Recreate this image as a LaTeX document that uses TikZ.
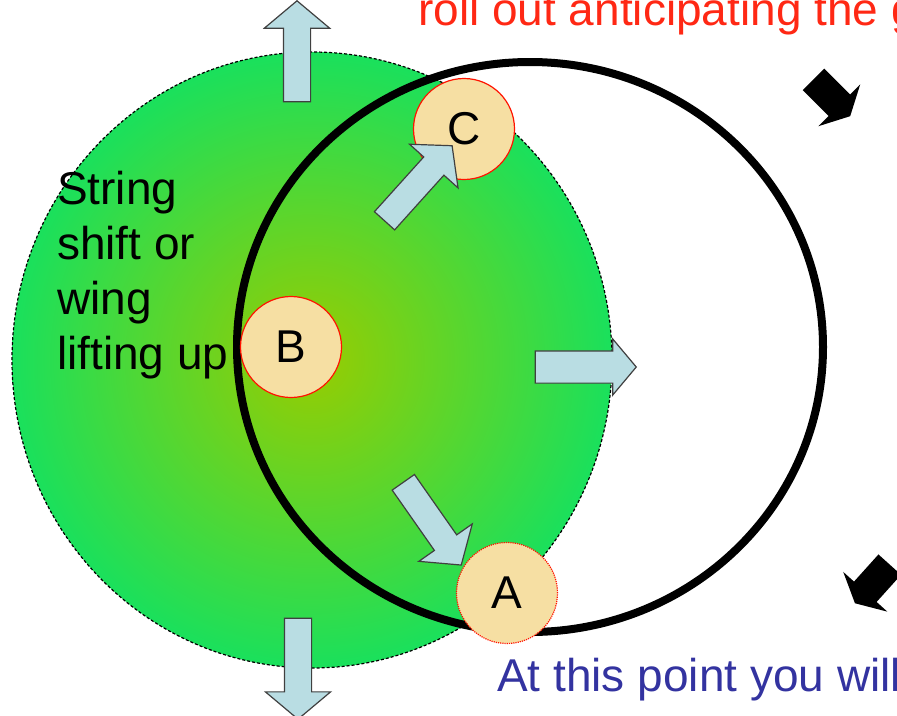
\documentclass[tikz,border=0pt]{standalone}
\usepackage{fontspec}
\setmainfont{Liberation Sans}
\usetikzlibrary{shapes.arrows}

\definecolor{discinner}{RGB}{152,204,0}
\definecolor{discouter}{RGB}{26,224,92}
\definecolor{wheatfill}{RGB}{246,223,163}
\definecolor{arrowblue}{RGB}{185,221,227}
\definecolor{rolltext}{RGB}{255,40,20}
\definecolor{pointtext}{RGB}{51,51,160}

\newcommand{\slidefont}{\fontsize{46}{55}\selectfont}

\tikzset{
  lettercirc/.style={circle, draw=red!85!orange, line width=1.2pt, fill=wheatfill,
    minimum size=101pt, inner sep=0pt, font=\slidefont},
  bluearrow/.style={single arrow, draw=black!75, line width=1.2pt, fill=arrowblue,
    inner xsep=0pt, inner ysep=13pt, single arrow head extend=19pt,
    single arrow tip angle=100, minimum height=101pt},
  blackarrow/.style={single arrow, fill=black, inner xsep=0pt, inner ysep=15pt,
    single arrow head extend=14.5pt, single arrow tip angle=125, minimum height=52pt},
  slidetext/.style={font=\slidefont, inner sep=0pt}
}

\begin{document}
\begin{tikzpicture}[x=1pt, y=-1pt]
  \useasboundingbox (0,0) rectangle (897,715);
  \clip (0,0) rectangle (897,715);

  % Disco verde
  \shade[inner color=discinner, outer color=discouter] (312,360) ellipse (300 and 308);
  \draw[densely dashed, line width=1.2pt] (312,360) ellipse (300 and 308);

  % Anello nero
  \draw[line width=8pt] (530,347) ellipse (293 and 285);

  % Punti A, B, C
  \node[lettercirc] (C) at (464,129) {C};
  \node[lettercirc] (B) at (291,347) {B};
  \node[lettercirc, densely dotted] (A) at (507,593) {A};

  % Frecce azzurre
  \node[bluearrow, rotate=90] (up) at (297,57) {};
  \node[bluearrow, rotate=-90] (down) at (298,663) {};
  \node[bluearrow, inner ysep=15.5pt, single arrow head extend=12pt] (right) at (579,367) {};
  \node[bluearrow, rotate=48] (toC) at (414.5,187.5) {};
  \node[bluearrow, rotate=-55] (toA) at (429,519) {};

  % Frecce nere
  \node[blackarrow, rotate=-45] (topturn) at (829,95) {};
  \node[blackarrow, rotate=-132] (lowturn) at (875,581) {};

  % Testi
  \node[slidetext, text=rolltext, anchor=base west] (roll) at (418,25) {roll out anticipating the g};
  \node[slidetext, text=pointtext, anchor=base west] (point) at (497,691) {At this point you will};
  \node[slidetext, align=left, anchor=north west] (shift) at (57,171) {String\\shift or\\wing\\lifting up};
\end{tikzpicture}
\end{document}
